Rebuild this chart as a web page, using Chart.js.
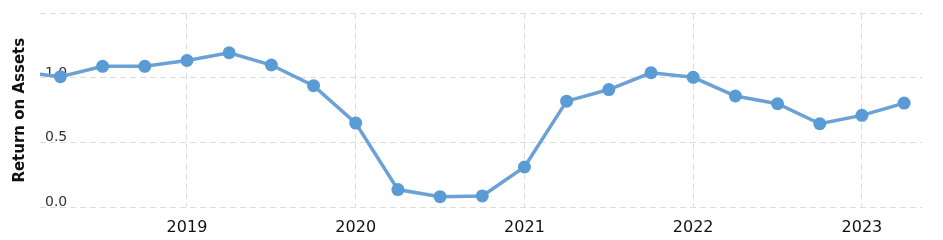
<!DOCTYPE html>
<html>
<head>
<meta charset="utf-8">
<script src="https://cdn.jsdelivr.net/npm/chart.js@4/dist/chart.umd.min.js"></script>
<style>
  html, body { margin: 0; padding: 0; background: #fff; }
  #wrap { width: 943px; height: 240px; }
</style>
</head>
<body>
<div id="wrap"><canvas id="c" width="943" height="240"></canvas></div>
<script>
// Quarter dates of the series (first one lies left of the visible axis)
const quarterDates = [
  '2018-01-01','2018-04-01','2018-07-01','2018-10-01',
  '2019-01-01','2019-04-01','2019-07-01','2019-10-01',
  '2020-01-01','2020-04-01','2020-07-01','2020-10-01',
  '2021-01-01','2021-04-01','2021-07-01','2021-10-01',
  '2022-01-01','2022-04-01','2022-07-01','2022-10-01',
  '2023-01-01','2023-04-01'
];
// Return on Assets values
const roaValues = [
  1.05, 1.01, 1.09, 1.09,
  1.135, 1.195, 1.10, 0.94,
  0.65, 0.135, 0.08, 0.086,
  0.31, 0.82, 0.91, 1.04,
  1.005, 0.86, 0.80, 0.645,
  0.71, 0.805
];
const xTickYears = [2019, 2020, 2021, 2022, 2023];
const yTickValues = [0, 0.5, 1.0, 1.5];
const yTickLabels = ['0.0', '0.5', '1.0', ''];
const yAxisTitle = 'Return on Assets';

function toYear(d) {
  const [y, m] = d.split('-').map(Number);
  return y + (m - 1) / 12;
}
const points = quarterDates.map((d, i) => ({ x: toYear(d), y: roaValues[i] }));

const gridColor = '#dcdcdc';
new Chart(document.getElementById('c'), {
  type: 'line',
  data: {
    datasets: [{
      data: points,
      borderColor: '#6aa2d6',
      backgroundColor: '#5b9bd5',
      pointBackgroundColor: '#5b9bd5',
      pointBorderColor: '#5b9bd5',
      borderWidth: 3.5,
      pointRadius: 6.5,
      pointBorderWidth: 0,
      tension: 0,
      clip: 0
    }]
  },
  options: {
    responsive: false,
    animation: false,
    devicePixelRatio: 1,
    layout: { padding: { left: 0, right: 21, top: 11, bottom: 0 } },
    plugins: { legend: { display: false }, tooltip: { enabled: false } },
    scales: {
      x: {
        type: 'linear',
        min: 2018.129,
        max: 2023.356,
        afterBuildTicks: (scale) => { scale.ticks = xTickYears.map(v => ({ value: v })); },
        afterFit: (scale) => { scale.height = 33; },
        ticks: {
          callback: (v) => String(v),
          font: { family: 'DejaVu Sans', size: 16 },
          color: '#111',
          padding: 11,
          maxRotation: 0,
          autoSkip: false
        },
        grid: { color: gridColor, lineWidth: 1, drawTicks: false },
        border: { display: false, dash: [6, 4] }
      },
      y: {
        min: 0,
        max: 1.5,
        afterBuildTicks: (scale) => { scale.ticks = yTickValues.map(v => ({ value: v })); },
        afterFit: (scale) => { scale.width = 40; },
        ticks: {
          mirror: true,
          padding: 5,
          labelOffset: -5,
          callback: (v, i) => yTickLabels[i],
          font: { family: 'DejaVu Sans', size: 14 },
          color: '#333'
        },
        grid: { color: gridColor, lineWidth: 1, drawTicks: false },
        border: { display: false, dash: [6, 4] },
        title: {
          display: true,
          text: yAxisTitle,
          font: { family: 'DejaVu Sans', size: 15, weight: 'bold' },
          color: '#111',
          padding: { top: 11, bottom: 4 }
        }
      }
    }
  }
});
</script>
</body>
</html>
